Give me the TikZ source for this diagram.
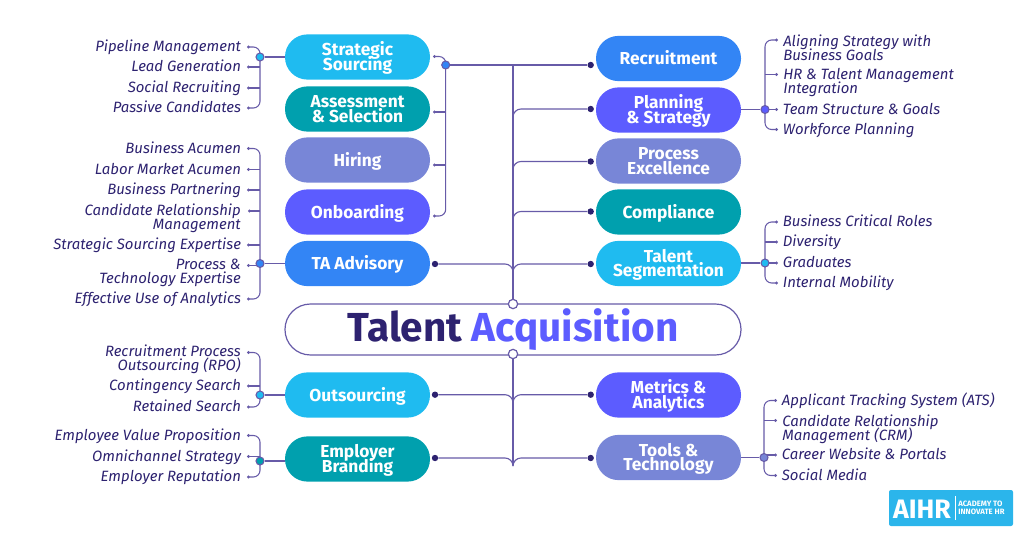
\documentclass[tikz,border=0pt]{standalone}
\usepackage{fontspec}
\setmainfont{Fira Sans}
\usetikzlibrary{arrows.meta,backgrounds,positioning}

\lineskiplimit=-20pt

\definecolor{ink}{HTML}{2D2270}
\definecolor{wire}{HTML}{675BA8}
\definecolor{skyfill}{HTML}{1FBBF0}
\definecolor{tealfill}{HTML}{00A0AE}
\definecolor{mistfill}{HTML}{7886D7}
\definecolor{violetfill}{HTML}{5C5CFF}
\definecolor{bluefill}{HTML}{3385F5}
\definecolor{logofill}{HTML}{2BB5EB}

\tikzset{
    pill/.style={draw=none, text=white, rounded corners=16.8pt, minimum width=108.75pt, minimum height=33.9pt, align=center, inner sep=0pt, font=\fontsize{13}{11.2}\selectfont\bfseries, execute at begin node={\rule{0pt}{12pt}}, execute at end node={\rule[-3pt]{0pt}{3pt}}},
    pilltwo/.style={pill, execute at begin node={\rule{0pt}{23.2pt}}},
    leafl/.style={anchor=east, inner sep=0pt, outer xsep=4.5pt, text=ink, text height=9.5pt, text depth=2.5pt, font=\fontsize{11.2}{10.5}\selectfont\itshape},
    leafr/.style={leafl, anchor=west, outer xsep=3.7pt},
    leafltwo/.style={anchor=north east, inner sep=0pt, align=right, text=ink, font=\fontsize{11.2}{10.5}\selectfont\itshape},
    leafrtwo/.style={leafltwo, anchor=north west, align=left},
    twig/.style={draw=wire, line width=.8pt, rounded corners=5pt, {Circle[length=2.2pt]}-},
    wirel/.style={draw=wire, line width=.85pt, rounded corners=6pt},
    hub/.style={circle, draw=wire, line width=.8pt, minimum size=6pt, inner sep=0pt},
    enddot/.style={circle, fill=ink, minimum size=4.8pt, inner sep=0pt},
    port/.style={circle, draw=wire, fill=white, line width=.9pt, minimum size=7pt, inner sep=0pt},
}

\begin{document}
\begin{tikzpicture}[x=.75pt, y=-.75pt]
    \useasboundingbox (0,0) rectangle (1024,535);

    % centre
    \node[draw=wire, line width=.9pt, rounded corners=19pt, minimum width=342pt, minimum height=38.2pt, inner sep=0pt, font=\fontsize{30.4}{30}\selectfont\bfseries] (talent) at (513,329.5) {\textcolor{ink}{Talent} \textcolor{violetfill}{Acquisition}};
    \node[port] (portup) at (513,304) {};
    \node[port] (portdown) at (513,354) {};

    % left pills
    \node[pilltwo, fill=skyfill] (sourcing) at (357.5,57) {Strategic\\Sourcing};
    \node[pilltwo, fill=tealfill] (assess) at (357.5,109) {Assessment\\\& Selection};
    \node[pill, fill=mistfill] (hiring) at (357.5,160) {Hiring};
    \node[pill, fill=violetfill] (onboard) at (357.5,212) {Onboarding};
    \node[pill, fill=bluefill] (advisory) at (357.5,263.5) {TA Advisory};
    \node[pill, fill=skyfill] (outsource) at (357.5,395) {Outsourcing};
    \node[pilltwo, fill=tealfill] (brand) at (357.5,459) {Employer\\Branding};

    % right pills
    \node[pill, fill=bluefill] (recruit) at (668.5,58.5) {Recruitment};
    \node[pilltwo, fill=violetfill] (planning) at (668.5,110) {Planning\\\& Strategy};
    \node[pilltwo, fill=mistfill] (process) at (668.5,161) {Process\\Excellence};
    \node[pill, fill=tealfill] (comply) at (668.5,212) {Compliance};
    \node[pilltwo, fill=skyfill] (segment) at (668.5,263.5) {Talent\\Segmentation};
    \node[pilltwo, fill=violetfill] (metrics) at (668.5,395) {Metrics \&\\Analytics};
    \node[pilltwo, fill=mistfill] (tools) at (668.5,457.5) {Tools \&\\Technology};

    % labels, left side
    \node[leafl] (pipeline) at (247,47) {Pipeline Management};
    \node[leafl] (leads) at (247,67) {Lead Generation};
    \node[leafl] (social) at (247,88) {Social Recruiting};
    \node[leafl] (passive) at (247,108) {Passive Candidates};

    \node[leafl] (acumen) at (247,148.5) {Business Acumen};
    \node[leafl] (labor) at (247,169.5) {Labor Market Acumen};
    \node[leafl] (partner) at (247,190) {Business Partnering};
    \node[leafltwo] (candidate) at (241,203.5) {Candidate Relationship\\Management};
    \coordinate (candidatetip) at (248,211);
    \node[leafl] (expertise) at (247,245) {Strategic Sourcing Expertise};
    \node[leafltwo] (techproc) at (241,259) {Process \&\\Technology Expertise};
    \coordinate (techproctip) at (247,265.5);
    \node[leafl] (analytics) at (247,299) {Effective Use of Analytics};

    \node[leafltwo] (rpo) at (241,344.5) {Recruitment Process\\Outsourcing (RPO)};
    \coordinate (rpotip) at (247,352.5);
    \node[leafl] (contingency) at (247,386) {Contingency Search};
    \node[leafl] (retained) at (247,407) {Retained Search};

    \node[leafl] (evp) at (247,435.5) {Employee Value Proposition};
    \node[leafl] (omni) at (247,456.5) {Omnichannel Strategy};
    \node[leafl] (reputation) at (247,477) {Employer Reputation};

    % labels, right side
    \node[leafrtwo] (aligning) at (783,34.5) {Aligning Strategy with\\Business Goals};
    \coordinate (aligningtip) at (778,40);
    \node[leafrtwo] (hrtalent) at (783,68.5) {HR \& Talent Management\\Integration};
    \coordinate (hrtalenttip) at (778,74.5);
    \node[leafr] (team) at (778,109.5) {Team Structure \& Goals};
    \node[leafr] (workforce) at (778,129.5) {Workforce Planning};

    \node[leafr] (critical) at (778,222) {Business Critical Roles};
    \node[leafr] (diversity) at (778,242) {Diversity};
    \node[leafr] (graduates) at (778,263) {Graduates};
    \node[leafr] (mobility) at (778,283) {Internal Mobility};

    \node[leafr] (ats) at (777,400.5) {Applicant Tracking System (ATS)};
    \node[leafrtwo] (crm) at (782,414.5) {Candidate Relationship\\Management (CRM)};
    \coordinate (crmtip) at (777,420.5);
    \node[leafr] (career) at (777,455) {Career Website \& Portals};
    \node[leafr] (media) at (777,475.5) {Social Media};

    % hubs
    \node[hub, fill=skyfill] (hubsource) at (260,57) {};
    \node[hub, fill=bluefill] (hubadvise) at (260,263.5) {};
    \node[hub, fill=skyfill] (huboutsource) at (260,395) {};
    \node[hub, fill=tealfill] (hubbrand) at (260,461) {};
    \node[hub, fill=bluefill] (hubmerge) at (445.7,65) {};
    \node[hub, fill=violetfill] (hubplan) at (765,109.5) {};
    \node[hub, fill=skyfill] (hubsegment) at (765,263) {};
    \node[hub, fill=mistfill] (hubtools) at (764,457.5) {};

    % end dots
    \coordinate (tipsource) at (433,56.5);
    \coordinate (tipassess) at (433,112);
    \coordinate (tiphiring) at (433,165);
    \coordinate (tiponboard) at (433,216);
    \node[enddot] (dotadvise) at (435,264) {};
    \node[enddot] (dotoutsource) at (435,394.7) {};
    \node[enddot] (dotbrand) at (435,458) {};
    \node[enddot] (dotrecruit) at (590.7,65) {};
    \node[enddot] (dotplan) at (590.7,109) {};
    \node[enddot] (dotprocess) at (590.7,161.5) {};
    \node[enddot] (dotcomply) at (590.7,211.5) {};
    \node[enddot] (dotsegment) at (590.7,264) {};
    \node[enddot] (dotmetrics) at (590.7,394.7) {};
    \node[enddot] (dottools) at (590.7,458) {};

    % joins on the trunk
    \coordinate (trunktop) at (513,65);
    \coordinate (joinplan) at (513,118);
    \coordinate (joinprocess) at (513,171);
    \coordinate (joincomply) at (513,221);
    \coordinate (joinmid) at (513,270);
    \coordinate (joinmetrics) at (513,401);
    \coordinate (joinlast) at (513,463.5);

    \begin{scope}[on background layer]
        % trunk
        \draw[wirel] (trunktop) -- (portup);
        \draw[wirel] (portdown) -- (joinlast);
        \draw[wirel] (hubmerge) -- (dotrecruit);
        \draw[wirel] (dotplan) -| (joinplan);
        \draw[wirel] (dotprocess) -| (joinprocess);
        \draw[wirel] (dotcomply) -| (joincomply);
        \draw[wirel] (dotadvise) -| (joinmid);
        \draw[wirel] (dotsegment) -| (joinmid);
        \draw[wirel] (dotoutsource) -| (joinmetrics);
        \draw[wirel] (dotmetrics) -| (joinmetrics);
        \draw[wirel] (dotbrand) -| (joinlast);
        \draw[wirel] (dottools) -| (joinlast);

        % merge of the four left pills
        \draw[twig] (tipsource) -| (hubmerge.center);
        \draw[twig] (tipassess) -- (tipassess -| hubmerge);
        \draw[twig] (tiphiring) -- (tiphiring -| hubmerge);
        \draw[twig] (tiponboard) -| (hubmerge.center);

        % strategic sourcing
        \draw[wirel] (hubsource) -- (sourcing);
        \draw[twig] (pipeline.east) -| (hubsource.center);
        \draw[twig] (leads.east) -- (leads.east -| hubsource);
        \draw[twig] (social.east) -- (social.east -| hubsource);
        \draw[twig] (passive.east) -| (hubsource.center);

        % ta advisory
        \draw[wirel] (hubadvise) -- (advisory);
        \draw[twig] (acumen.east) -| (hubadvise.center);
        \draw[twig] (labor.east) -- (labor.east -| hubadvise);
        \draw[twig] (partner.east) -- (partner.east -| hubadvise);
        \draw[twig] (candidatetip) -- (candidatetip -| hubadvise);
        \draw[twig] (expertise.east) -- (expertise.east -| hubadvise);
        \draw[twig] (techproctip) -- (techproctip -| hubadvise);
        \draw[twig] (analytics.east) -| (hubadvise.center);

        % outsourcing
        \draw[wirel] (huboutsource) -- (outsource);
        \draw[twig] (rpotip) -| (huboutsource.center);
        \draw[twig] (contingency.east) -- (contingency.east -| huboutsource);
        \draw[twig] (retained.east) -| (huboutsource.center);

        % employer branding
        \draw[wirel] (hubbrand) -- (hubbrand -| brand.west);
        \draw[twig] (evp.east) -| (hubbrand.center);
        \draw[twig] (omni.east) -- (omni.east -| hubbrand);
        \draw[twig] (reputation.east) -| (hubbrand.center);

        % planning
        \draw[wirel] (hubplan) -- (hubplan -| planning.east);
        \draw[twig] (aligningtip) -| (hubplan.center);
        \draw[twig] (hrtalenttip) -- (hrtalenttip -| hubplan);
        \draw[twig] (team.west) -- (team.west -| hubplan);
        \draw[twig] (workforce.west) -| (hubplan.center);

        % segmentation
        \draw[wirel] (hubsegment) -- (hubsegment -| segment.east);
        \draw[twig] (critical.west) -| (hubsegment.center);
        \draw[twig] (diversity.west) -- (diversity.west -| hubsegment);
        \draw[twig] (graduates.west) -- (graduates.west -| hubsegment);
        \draw[twig] (mobility.west) -| (hubsegment.center);

        % tools
        \draw[wirel] (hubtools) -- (hubtools -| tools.east);
        \draw[twig] (ats.west) -| (hubtools.center);
        \draw[twig] (crmtip) -- (crmtip -| hubtools);
        \draw[twig] (career.west) -- (career.west -| hubtools);
        \draw[twig] (media.west) -| (hubtools.center);
    \end{scope}

    % logo
    \node[fill=logofill, rounded corners=1.5pt, minimum width=93pt, minimum height=27pt, inner sep=0pt] (logo) at (951,508) {};
    \node[text=white, inner sep=0pt, font=\fontsize{20}{20}\selectfont\bfseries] (logoname) at (922,509) {AIHR};
    \node[text=white, inner sep=0pt, align=left, anchor=west, font=\fontsize{5.8}{6.2}\selectfont\bfseries] (logotag) at (958,508) {ACADEMY TO\\INNOVATE HR};
    \coordinate (logorulea) at (955,496);
    \coordinate (logoruleb) at (955,520);
    \draw[white, line width=.5pt] (logorulea) -- (logoruleb);
\end{tikzpicture}
\end{document}
